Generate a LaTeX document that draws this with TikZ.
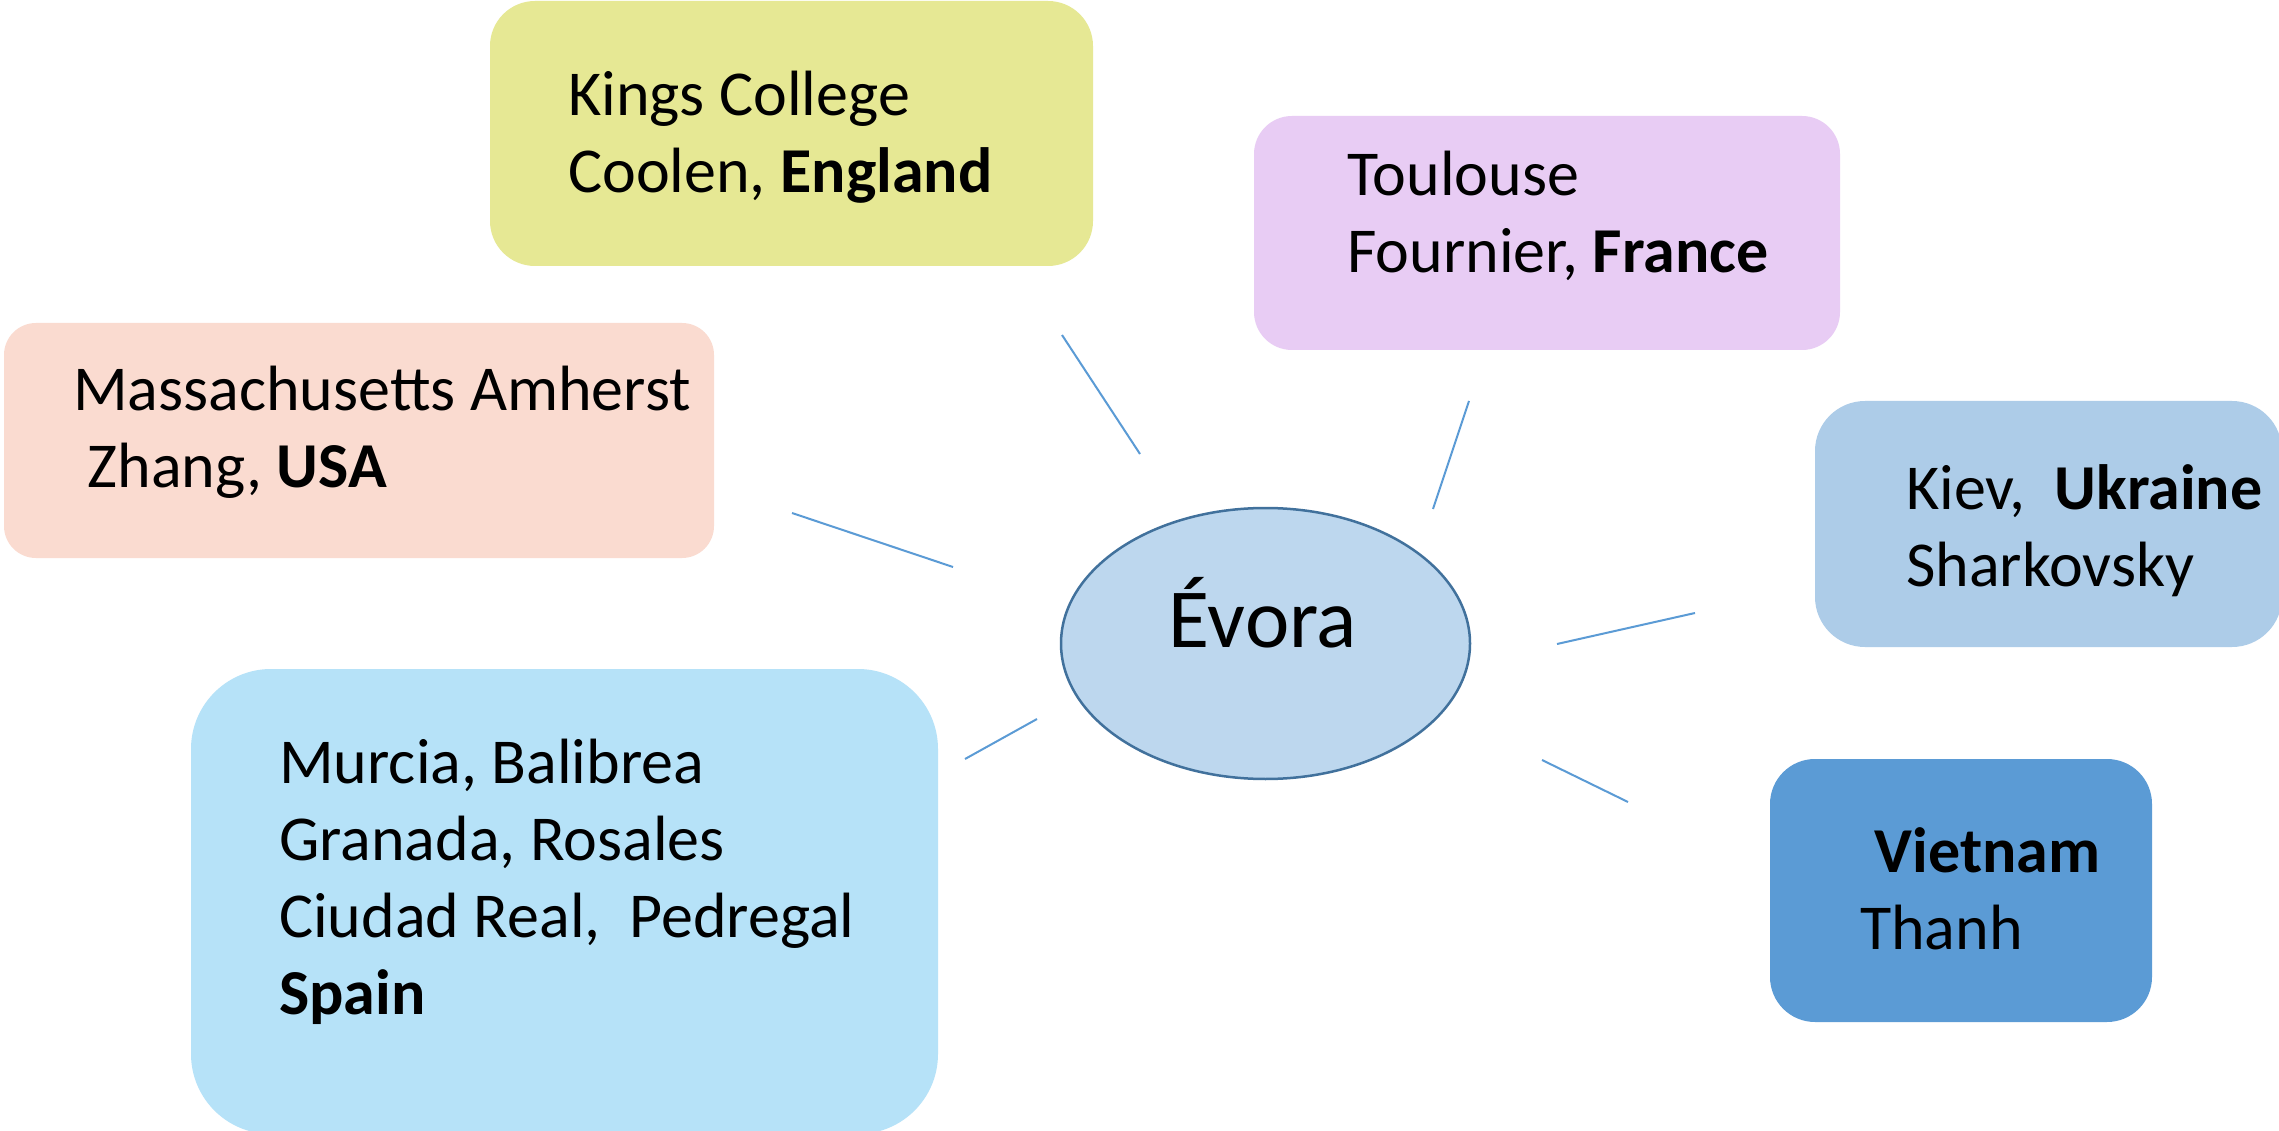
\documentclass[tikz,border=0pt]{standalone}
\usepackage{fontspec}
\setmainfont{Carlito}
\usetikzlibrary{shapes.geometric}
\definecolor{cEng}{RGB}{230,232,148}
\definecolor{cFra}{RGB}{232,204,244}
\definecolor{cUsa}{RGB}{250,219,208}
\definecolor{cUkr}{RGB}{173,204,232}
\definecolor{cSpa}{RGB}{182,226,248}
\definecolor{cVie}{RGB}{91,155,213}
\definecolor{cEllFill}{RGB}{189,215,238}
\definecolor{cEllLine}{RGB}{65,113,156}
\definecolor{cConn}{RGB}{91,155,213}
\begin{document}
\begin{tikzpicture}[x=1pt,y=-1pt,
  box/.style={rectangle,draw=none,inner sep=0pt},
  boxtext/.style={anchor=base west,inner sep=0pt,font=\fontsize{64}{77}\selectfont},
  hub/.style={ellipse,draw=cEllLine,fill=cEllFill,line width=2.5pt,inner sep=0pt},
  conn/.style={draw=cConn,line width=2pt}]
\useasboundingbox (0,0) rectangle (2279,1131);
\fill[white] (0,0) rectangle (2279,1131);

% boxes
\node[box,fill=cEng,rounded corners=45pt,minimum width=603pt,minimum height=265pt] (eng) at (791.5,133.5) {};
\node[box,fill=cFra,rounded corners=38pt,minimum width=586pt,minimum height=234pt] (fra) at (1547,233) {};
\node[box,fill=cUsa,rounded corners=32pt,minimum width=710pt,minimum height=235pt] (usa) at (359,440.5) {};
\node[box,fill=cUkr,rounded corners=50pt,minimum width=467pt,minimum height=246pt] (ukr) at (2048.5,524) {};
\node[box,fill=cSpa,rounded corners=80pt,minimum width=747pt,minimum height=465pt] (spa) at (564.5,901.5) {};
\node[box,fill=cVie,rounded corners=45pt,minimum width=382pt,minimum height=263pt] (vie) at (1961,890.5) {};

% hub
\node[hub,minimum width=409pt,minimum height=271pt] (evora) at (1265.5,643.5) {};
\node[anchor=base,inner sep=0pt,font=\fontsize{84}{100}\selectfont] (evoraT) at (1263,647) {Évora};

% texts
\node[boxtext] (engT) at (568,116) {\vtop{\hbox{Kings College}\hbox{Coolen, \textbf{England}}}};
\node[boxtext] (fraT) at (1347,196) {\vtop{\hbox{Toulouse}\hbox{Fournier, \textbf{France}}}};
\node[boxtext] (usaT) at (73,411) {\vtop{\hbox{Massachusetts Amherst}\hbox{\ Zhang, \textbf{USA}}}};
\node[boxtext] (ukrT) at (1906,509) {\vtop{\hbox{Kiev,\ \ \textbf{Ukraine}}\hbox{Sharkovsky}}};
\node[boxtext] (spaT) at (279,783) {\vtop{\hbox{Murcia, Balibrea}\hbox{Granada, Rosales}\hbox{Ciudad Real,\ \ Pedregal}\hbox{\textbf{Spain}}}};
\node[boxtext] (vieT) at (1860,872) {\vtop{\hbox{\ \textbf{Vietnam}}\hbox{Thanh}}};

% connector end points
\coordinate (e1) at (1062,335); \coordinate (e2) at (1140,454);
\coordinate (f1) at (1469,401); \coordinate (f2) at (1433,509);
\coordinate (u1) at (792,513);  \coordinate (u2) at (953,567);
\coordinate (k1) at (1557,644); \coordinate (k2) at (1695,613);
\coordinate (s1) at (965,759);  \coordinate (s2) at (1037,719);
\coordinate (v1) at (1542,760); \coordinate (v2) at (1628,802);

\draw[conn] (e1) -- (e2);
\draw[conn] (f1) -- (f2);
\draw[conn] (u1) -- (u2);
\draw[conn] (k1) -- (k2);
\draw[conn] (s1) -- (s2);
\draw[conn] (v1) -- (v2);
\end{tikzpicture}
\end{document}
